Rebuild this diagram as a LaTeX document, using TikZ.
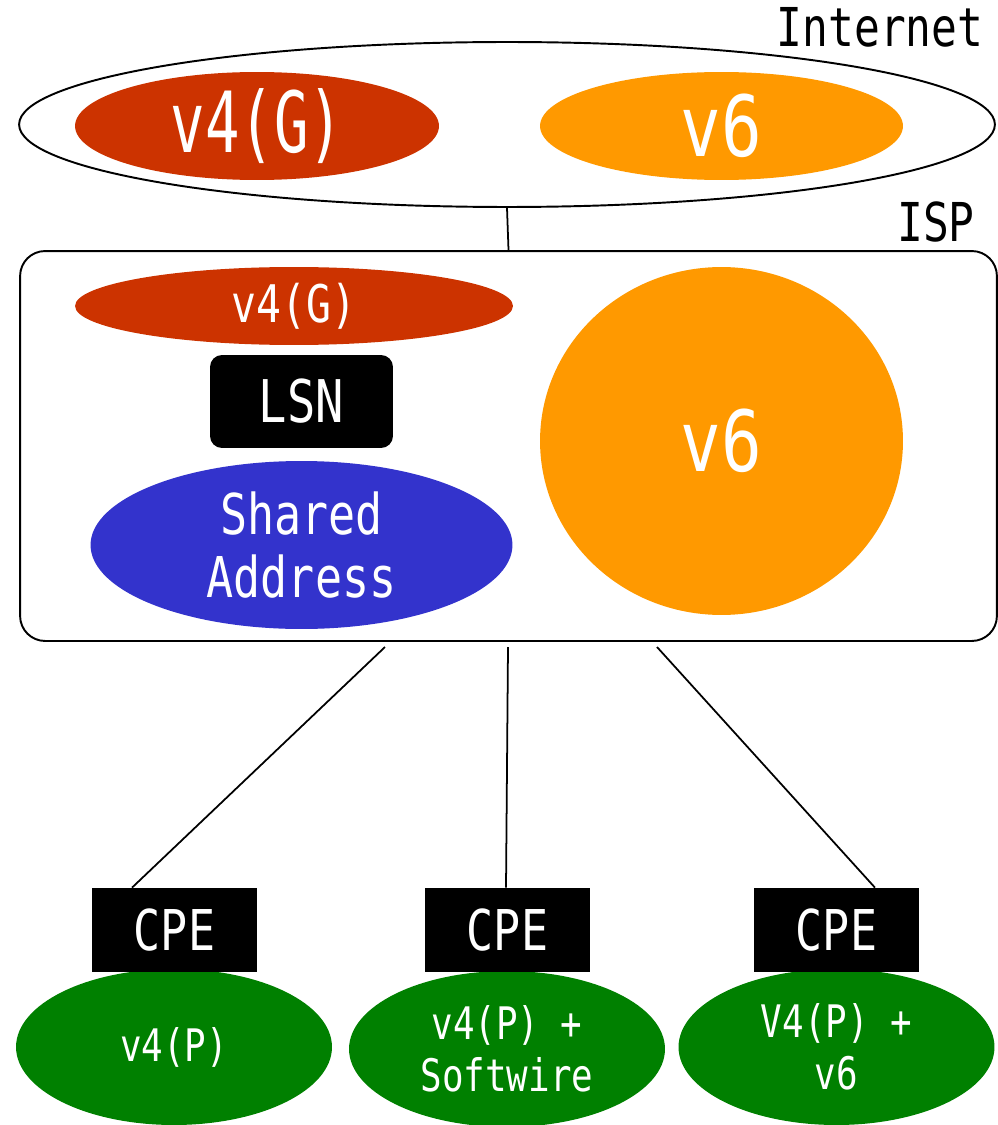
\documentclass[tikz,border=0pt]{standalone}
\usepackage{fontspec}
\setmainfont[FakeStretch=0.8]{DejaVu Sans Mono}
\newfontfamily\tightfont[FakeStretch=0.68]{DejaVu Sans Mono}
\usetikzlibrary{shapes.geometric}
\definecolor{v4red}{HTML}{CC3300}
\definecolor{v6orange}{HTML}{FF9900}
\definecolor{sharedblue}{HTML}{3333CC}
\definecolor{cpegreen}{HTML}{008000}

\begin{document}
\begin{tikzpicture}[x=0.02cm,y=-0.02cm]
\tikzstyle{net ellipse}=[ellipse,inner sep=0pt,text=white,align=center]
\tikzstyle{black box}=[rectangle,fill=black,text=white,inner sep=0pt,font=\fontsize{32}{34}\selectfont]
\tikzstyle{net label}=[font=\fontsize{30.5}{32}\selectfont]
\tikzstyle{home}=[net ellipse,fill=cpegreen,minimum width=6.32cm,minimum height=3.12cm,font=\fontsize{25.5}{29.5}\selectfont]

\useasboundingbox (0,0) rectangle (997,1125);

% Internet
\node[net label] (lblinternet) at (880,27) {Internet};
\node[ellipse,draw,line width=1.1pt,minimum width=19.52cm,minimum height=3.3cm] (internet) at (507,124.5) {};
\node[net ellipse,fill=v4red,minimum width=7.28cm,minimum height=2.16cm,font=\tightfont\fontsize{48}{50}\selectfont] (v4g) at (257,126) {v4(G)};
\node[net ellipse,fill=v6orange,minimum width=7.26cm,minimum height=2.16cm,font=\fontsize{48}{50}\selectfont] (v6a) at (721.5,126) {v6};

% ISP
\node[net label] (lblisp) at (936,222) {ISP};
\node[draw,line width=1.1pt,rounded corners=0.5cm,minimum width=19.54cm,minimum height=7.8cm] (isp) at (508.5,446) {};
\draw[line width=1pt] (internet.south) -- (isp.north);
\node[net ellipse,fill=v4red,minimum width=8.76cm,minimum height=1.56cm,font=\fontsize{29.5}{32}\selectfont] (v4gisp) at (294,306) {v4(G)};
\node[black box,rounded corners=0.24cm,minimum width=3.66cm,minimum height=1.86cm,font=\fontsize{33.5}{36}\selectfont] (lsn) at (301.5,401.5) {LSN};
\node[net ellipse,fill=sharedblue,minimum width=8.44cm,minimum height=3.36cm,font=\fontsize{32}{35.7}\selectfont] (shared) at (301.5,545) {Shared\\Address};
\node[net ellipse,fill=v6orange,minimum width=7.26cm,minimum height=6.96cm,font=\fontsize{48}{50}\selectfont] (v6isp) at (721.5,441) {v6};

% clientes
\node[home] (home1) at (174,1047) {v4(P)};
\node[home] (home2) at (507,1049) {v4(P) +\\Softwire};
\node[home] (home3) at (836.5,1047) {V4(P) +\\v6};
\node[black box,minimum width=3.3cm,minimum height=1.68cm] (cpe1) at (174.5,930) {CPE};
\node[black box,minimum width=3.3cm,minimum height=1.68cm] (cpe2) at (507.5,930) {CPE};
\node[black box,minimum width=3.3cm,minimum height=1.68cm] (cpe3) at (836.5,930) {CPE};

\coordinate (v1) at (385,647);
\coordinate (v2) at (508,647);
\coordinate (v3) at (657,647);
\draw[line width=1pt] (v1) -- ([xshift=-0.85cm]cpe1.north);
\draw[line width=1pt] (v2) -- ([xshift=-0.03cm]cpe2.north);
\draw[line width=1pt] (v3) -- ([xshift=0.77cm]cpe3.north);
\end{tikzpicture}
\end{document}
